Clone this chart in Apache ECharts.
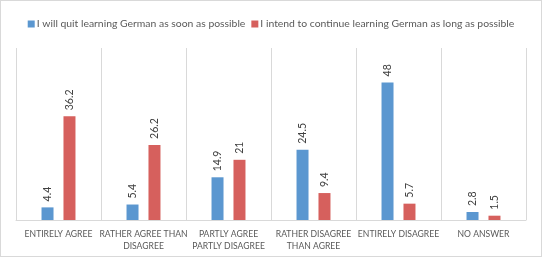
<!DOCTYPE html>
<html><head><meta charset="utf-8">
<script src="https://cdn.jsdelivr.net/npm/echarts@6/dist/echarts.min.js"></script>
<style>
html,body{margin:0;padding:0;background:#fff;}
#c{width:540px;height:255px;border:1px solid #d9d9d9;}
</style></head>
<body><div id="c"></div>
<script>
const categories = ["ENTIRELY AGREE", "RATHER AGREE THAN\nDISAGREE", "PARTLY AGREE\nPARTLY DISAGREE", "RATHER DISAGREE\nTHAN AGREE", "ENTIRELY DISAGREE", "NO ANSWER"];
const seriesNames = ["I will quit learning German as soon as possible", "I intend to continue learning German as long as possible"];
const quitValues = [4.4, 5.4, 14.9, 24.5, 48, 2.8];
const continueValues = [36.2, 26.2, 21, 9.4, 5.7, 1.5];
const colors = ["#5b97d0", "#d6605d"];
const font = "Lato, 'Open Sans', sans-serif";
const chart = echarts.init(document.getElementById('c'));
const lbl = {show:true, position:'top', rotate:90, align:'left', verticalAlign:'middle', distance:6, fontSize:10.5, color:'#404040', fontFamily:font};
chart.setOption({
  animation:false,
  color:colors,
  textStyle:{fontFamily:font},
  legend:{top:13, left:'center', itemWidth:7, itemHeight:7, itemGap:6, icon:'rect',
    textStyle:{fontSize:10.4, color:'#595959', fontFamily:font, padding:[0,0,0,-3]},
    data:seriesNames},
  grid:{left:15, right:15, top:47, bottom:36},
  xAxis:{type:'category', data:categories, boundaryGap:true,
    axisLine:{lineStyle:{color:'#d9d9d9'}}, axisTick:{show:false},
    splitLine:{show:true, lineStyle:{color:'#d9d9d9'}},
    axisLabel:{interval:0, hideOverlap:false, fontSize:8.6, color:'#595959', lineHeight:12, margin:8, fontFamily:font}},
  yAxis:{type:'value', min:0, max:60, show:false, splitLine:{show:false}},
  series:[
    {name:seriesNames[0], type:'bar', data:quitValues, barWidth:12, barGap:'83%', label:lbl},
    {name:seriesNames[1], type:'bar', data:continueValues, barWidth:12, label:lbl}
  ]
});
</script></body></html>
